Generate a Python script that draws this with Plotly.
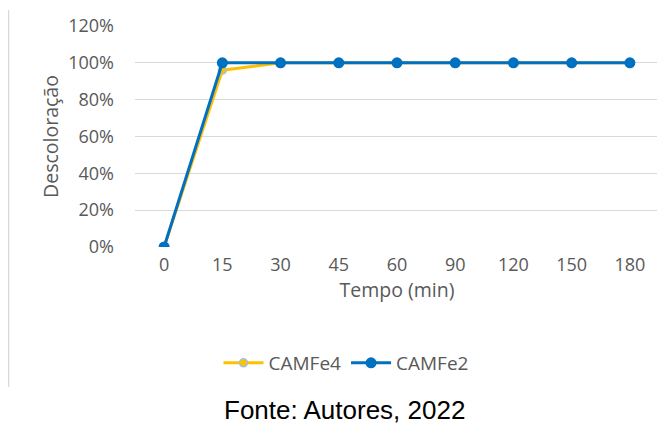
import plotly.graph_objects as go

categories = ["0", "15", "30", "45", "60", "90", "120", "150", "180"]
camfe4 = [0.0, 0.96, 1.0, 1.0, 1.0, 1.0, 1.0, 1.0, 1.0]
camfe2 = [0.0, 1.0, 1.0, 1.0, 1.0, 1.0, 1.0, 1.0, 1.0]
y_ticks = [0, 0.2, 0.4, 0.6, 0.8, 1.0, 1.2]
y_labels = ["0%", "20%", "40%", "60%", "80%", "100%", "120%"]

OFF = 8  # page body margin
W, H = 665 - OFF, 424 - OFF
fig = go.Figure()
fig.add_trace(go.Scatter(
    x=categories, y=camfe4, name="CAMFe4", mode="lines+markers",
    line=dict(color="#FFC000", width=3),
    marker=dict(size=8, color="#FFC000", line=dict(color="#9DC3E6", width=1.5)),
))
fig.add_trace(go.Scatter(
    x=categories, y=camfe2, name="CAMFe2", mode="lines+markers",
    line=dict(color="#0070C0", width=3),
    marker=dict(size=11, color="#0070C0"),
))

# plot area in page pixels
pl, pr, pt, pb = 135 - OFF, 659 - OFF, 26 - OFF, 247 - OFF
FONT = "Open Sans, Lato, sans-serif"
fig.update_layout(
    width=W, height=H,
    margin=dict(l=pl, r=W - pr, t=pt, b=H - pb),
    paper_bgcolor="white", plot_bgcolor="white",
    font=dict(family=FONT, color="#595959", size=18),
    showlegend=True,
    legend=dict(orientation="h", x=(346 - 135) / (pr - pl), xanchor="center",
                y=(pb - (363 - OFF)) / (pb - pt), yanchor="middle",
                font=dict(size=19, color="#595959"), traceorder="normal",
                itemwidth=40),
    xaxis=dict(type="category", range=[-0.5, 8.5], showgrid=False, showline=False,
               ticks="", tickfont=dict(size=18, color="#595959"), ticklabelstandoff=5,
               title=dict(text="Tempo (min)", font=dict(size=19.5, color="#595959"), standoff=6)),
    yaxis=dict(range=[0, 1.2], tickvals=y_ticks, ticktext=y_labels,
               showgrid=True, gridcolor="#D9D9D9", gridwidth=1, zeroline=False,
               showline=False, ticks="", tickfont=dict(size=18, color="#595959"),
               ticklabelstandoff=20,
               title=dict(text="Descoloração", font=dict(size=19.5, color="#595959"), standoff=4)),
    annotations=[dict(text="Fonte: Autores, 2022", xref="paper", yref="paper",
                      x=(344 - 135) / (pr - pl), y=(pb - (410 - OFF)) / (pb - pt),
                      showarrow=False, xanchor="center", yanchor="middle",
                      font=dict(family="Liberation Sans, Arial, sans-serif", size=26, color="#000000"))],
    shapes=[dict(type="line", xref="paper", yref="paper",
                 x0=(0.5 - pl) / (pr - pl), x1=(0.5 - pl) / (pr - pl),
                 y0=(pb - (10 - OFF)) / (pb - pt), y1=(pb - (387 - OFF)) / (pb - pt),
                 line=dict(color="#D9D9D9", width=1.5))],
)
fig.write_html("out.html")
